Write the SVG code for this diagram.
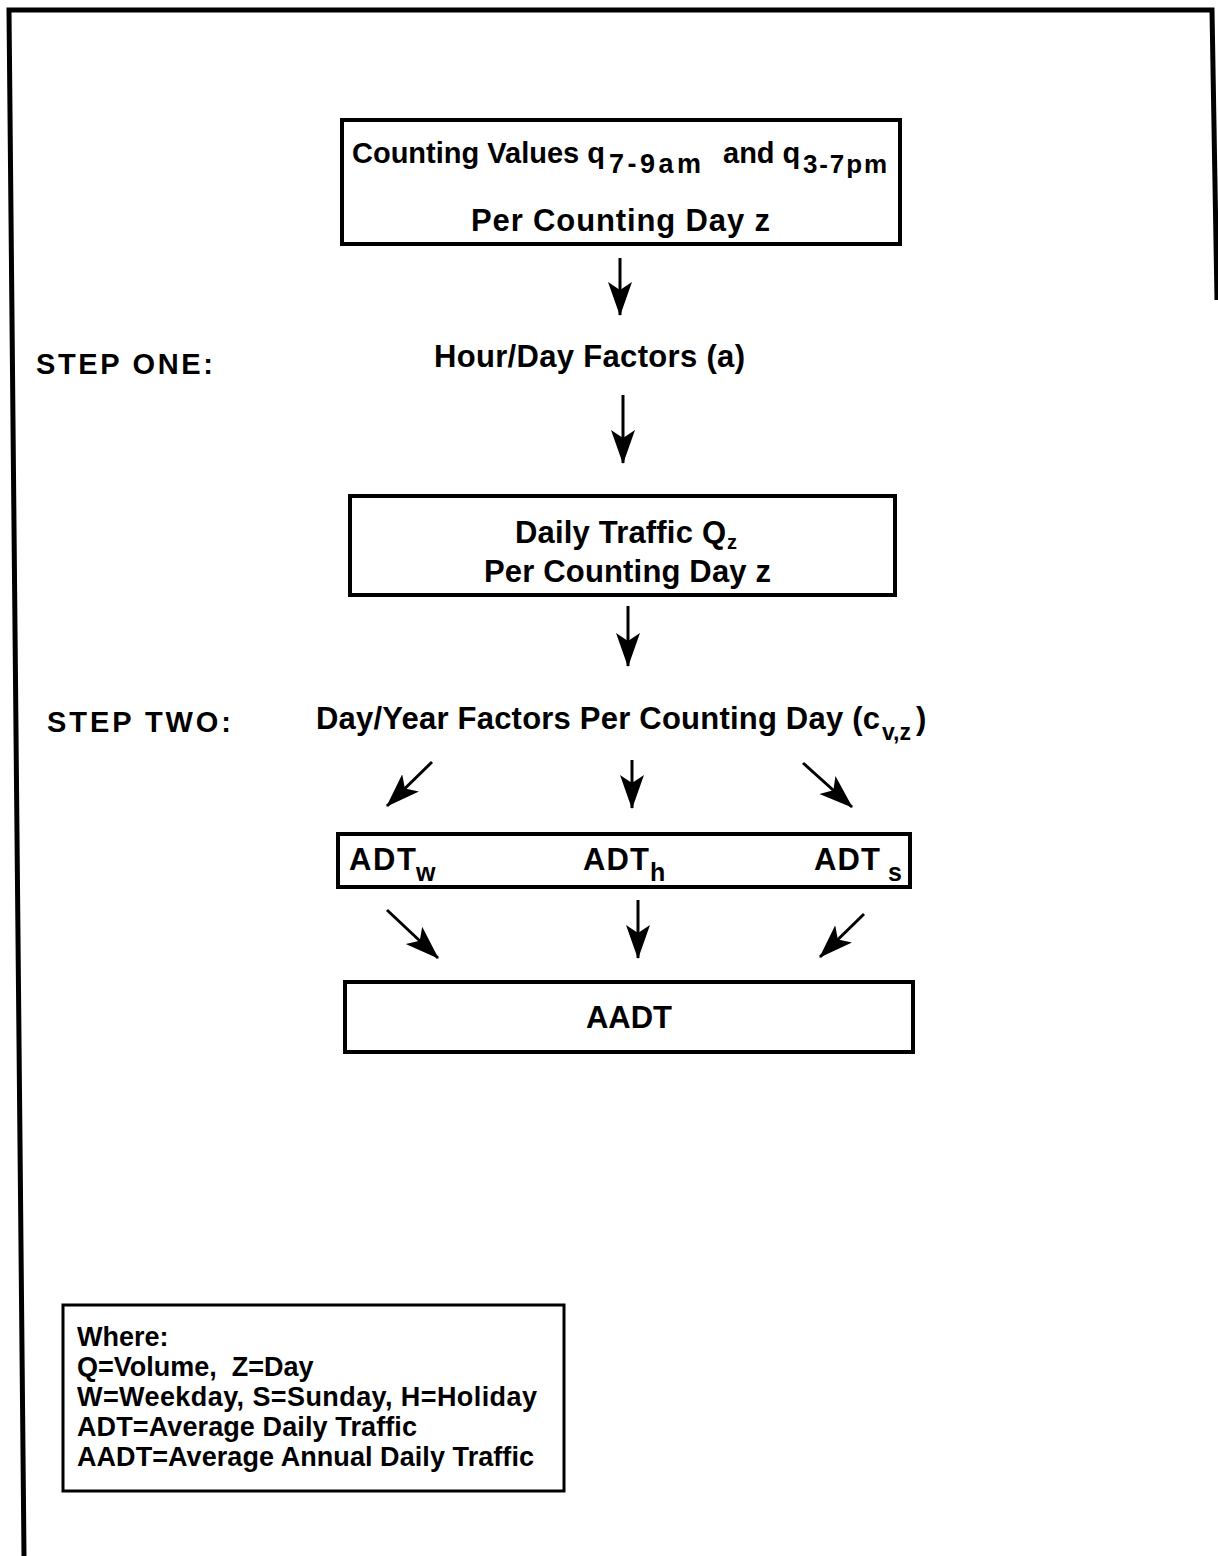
<svg xmlns="http://www.w3.org/2000/svg" width="1218" height="1556" viewBox="0 0 1218 1556">
<defs>
<marker id="ah" markerUnits="userSpaceOnUse" markerWidth="34" markerHeight="26" refX="33" refY="13" orient="auto" viewBox="0 0 34 26">
<path d="M0,1 L34,13 L0,25 L8,13 Z" fill="#000"/>
</marker>
<style>
.box{fill:#fff;stroke:#000;stroke-width:4}
.t{font-family:"Liberation Sans",Arial,sans-serif;font-weight:bold;fill:#000}
.m{font-size:31px}
.s{font-size:25px}
.lg{font-size:27px}
.st{font-size:29px}
.c{stroke:#000;stroke-width:3;fill:none;marker-end:url(#ah)}
</style>
</defs>
<rect width="1218" height="1556" fill="#fff"/>
<g id="frame">
<path d="M24,1556 L9,10 L1212,10 L1217,300" fill="none" stroke="#000" stroke-width="5"/>
</g>
<g id="n1">
<rect class="box" x="342" y="120" width="558" height="124"/>
<text class="t" font-size="29"><tspan x="352" y="163">Counting Values q</tspan><tspan font-size="27" x="609" y="173" textLength="92">7-9am</tspan><tspan x="723" y="163">and q</tspan><tspan font-size="26" x="803" y="173" textLength="84">3-7pm</tspan></text>
<text class="t m" x="471" y="231" textLength="299">Per Counting Day z</text>
</g>
<g id="step1">
<text class="t st" x="36" y="374" textLength="177">STEP ONE:</text>
</g>
<g id="n2">
<text class="t m" x="434" y="367" textLength="311">Hour/Day Factors (a)</text>
</g>
<g id="n3">
<rect class="box" x="350" y="496" width="545" height="99"/>
<text class="t m"><tspan x="515" y="543" textLength="211">Daily Traffic Q</tspan><tspan font-size="20" x="727" y="549">z</tspan></text>
<text class="t m" x="484" y="582" textLength="287">Per Counting Day z</text>
</g>
<g id="step2">
<text class="t st" x="47" y="732" textLength="184">STEP TWO:</text>
</g>
<g id="n4">
<text class="t m"><tspan x="316" y="729" textLength="564">Day/Year Factors Per Counting Day (c</tspan><tspan font-size="23" x="882" y="740">v,z</tspan><tspan x="916" y="729">)</tspan></text>
</g>
<g id="n5">
<rect class="box" x="338" y="834" width="572" height="53"/>
<text class="t m"><tspan x="349" y="870" textLength="67">ADT</tspan><tspan class="s" x="416" y="881">w</tspan></text>
<text class="t m"><tspan x="583" y="870" textLength="66">ADT</tspan><tspan class="s" x="650" y="881">h</tspan></text>
<text class="t m"><tspan x="814" y="870" textLength="66">ADT</tspan><tspan class="s" x="888" y="881">s</tspan></text>
</g>
<g id="n6">
<rect class="box" x="345" y="982" width="568" height="70"/>
<text class="t m" x="629" y="1028" text-anchor="middle">AADT</text>
</g>
<g id="legend">
<rect x="63" y="1305" width="501" height="186" fill="#fff" stroke="#000" stroke-width="3"/>
<text class="t lg" x="77" y="1346">Where:</text>
<text class="t lg" x="77" y="1376" xml:space="preserve">Q=Volume,  Z=Day</text>
<text class="t lg" x="77" y="1406" textLength="460">W=Weekday, S=Sunday, H=Holiday</text>
<text class="t lg" x="77" y="1436" textLength="340">ADT=Average Daily Traffic</text>
<text class="t lg" x="77" y="1466" textLength="457">AADT=Average Annual Daily Traffic</text>
</g>
<g id="connectors">
<line class="c" x1="620" y1="258" x2="620" y2="315"/>
<line class="c" x1="623" y1="395" x2="623" y2="463"/>
<line class="c" x1="628" y1="606" x2="628" y2="666"/>
<line class="c" x1="432" y1="762" x2="387" y2="806"/>
<line class="c" x1="632" y1="760" x2="632" y2="808"/>
<line class="c" x1="803" y1="763" x2="852" y2="807"/>
<line class="c" x1="387" y1="910" x2="438" y2="958"/>
<line class="c" x1="638" y1="900" x2="638" y2="958"/>
<line class="c" x1="864" y1="914" x2="820" y2="957"/>
</g>
</svg>
